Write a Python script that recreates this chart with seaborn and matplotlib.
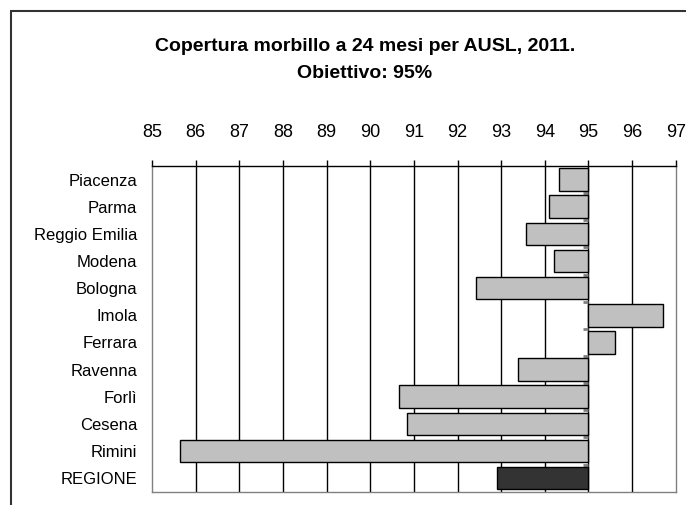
import numpy as np
import pandas as pd
import matplotlib
matplotlib.use("Agg")
import matplotlib.pyplot as plt
import seaborn as sns
from matplotlib.lines import Line2D

# data
ausl = ["Piacenza", "Parma", "Reggio Emilia", "Modena", "Bologna", "Imola",
        "Ferrara", "Ravenna", "Forlì", "Cesena", "Rimini", "REGIONE"]
coverage = [94.33, 94.10, 93.56, 94.20, 92.42, 96.71,
            95.60, 93.39, 90.67, 90.85, 85.63, 92.91]
bar_colors = ["#c0c0c0"] * 11 + ["#333333"]
target = 95
xticks = list(range(85, 98))

sns.set_style("white", {"text.color": "black", "xtick.color": "black",
                        "ytick.color": "black"})
plt.rcParams["font.family"] = ["Liberation Sans", "DejaVu Sans"]

df = pd.DataFrame({"ausl": ausl, "coverage": coverage})

fig = plt.figure(figsize=(6.86, 5.05), dpi=100)
ax = fig.add_axes([0.2216, 0.0263, 0.985 - 0.2216, 0.6713 - 0.0263])

sns.barplot(data=df, x="coverage", y="ausl", hue="ausl", palette=bar_colors,
            orient="h", width=0.83, edgecolor="black", linewidth=1,
            legend=False, ax=ax, zorder=3)

# bars start from the 95% target, not from zero
for rect, v in zip(ax.patches, coverage):
    rect.set_x(min(target, v))
    rect.set_width(abs(v - target))

ax.set_xlim(xticks[0], xticks[-1])
ax.set_ylim(len(ausl) - 0.5, -0.5)
ax.set_xticks(xticks)
ax.xaxis.tick_top()
ax.tick_params(axis="x", top=True, direction="out", length=4, width=1,
               color="black", labelcolor="black", pad=14, labelsize=13)
ax.tick_params(axis="y", left=False, pad=7, labelsize=12, labelcolor="black")
ax.set_xlabel("")
ax.set_ylabel("")

for x in xticks[1:-1]:
    ax.axvline(x, color="black", lw=1, zorder=1)

# small marks on the target axis between categories
ax.hlines(np.arange(len(ausl) - 1) + 0.5, target - 0.12, target,
          color="#808080", lw=2, zorder=2)

for side in ["left", "right", "bottom"]:
    ax.spines[side].set_visible(True)
    ax.spines[side].set_color("#808080")
    ax.spines[side].set_linewidth(1)
ax.spines["top"].set_color("black")
ax.spines["top"].set_linewidth(1)

fig.text(0.532, 0.907, "Copertura morbillo a 24 mesi per AUSL, 2011.",
         ha="center", va="center", fontsize=14, fontweight="bold", color="black")
fig.text(0.532, 0.855, "Obiettivo: 95%",
         ha="center", va="center", fontsize=14, fontweight="bold", color="black")

# outer chart frame (cut off at right and bottom)
fig.add_artist(Line2D([0.016, 1.0], [0.978, 0.978], color="#333333", lw=1.5))
fig.add_artist(Line2D([0.016, 0.016], [0.0, 0.978], color="#333333", lw=1.5))

fig.savefig("out.png", dpi=100)
